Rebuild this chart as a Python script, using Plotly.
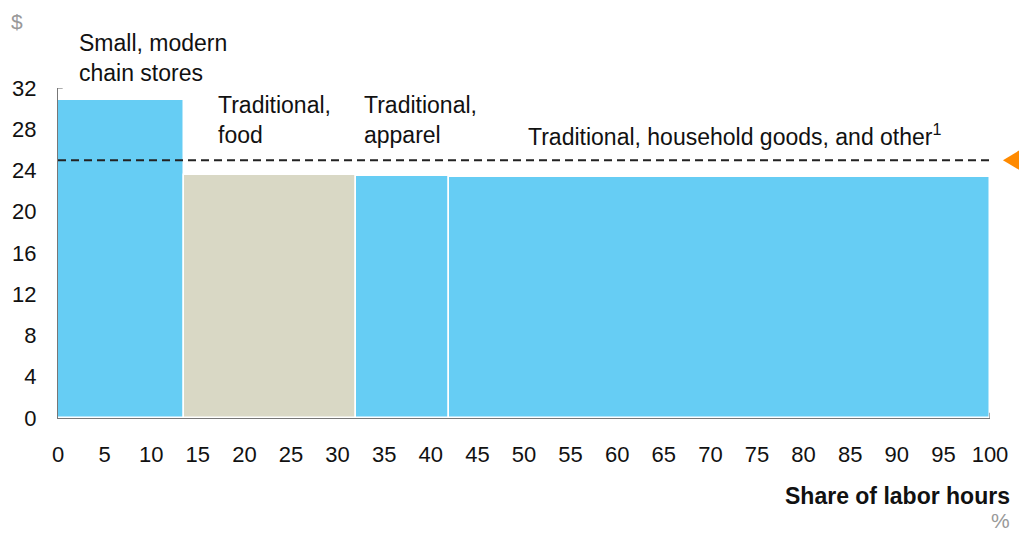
import numpy as np
import plotly.graph_objects as go

# segments (share of labor hours, %) and value per hour ($)
segments = ["Small, modern<br>chain stores", "Traditional,<br>food",
            "Traditional,<br>apparel", "Traditional, household goods, and other<sup>1</sup>"]
shares = [13.5, 18.5, 10.0, 58.0]
values = [30.8, 23.6, 23.5, 23.4]
bar_colors = ["#66CDF4", "#D9D8C5", "#66CDF4", "#66CDF4"]
benchmark = 25.0

# where each segment label starts (x, %)
label_x = [2.0, 16.9, 32.6, 50.2]

x_ticks = list(range(0, 101, 5))
y_ticks = list(range(0, 33, 4))

lefts = np.concatenate([[0], np.cumsum(shares)[:-1]])

FONT = "Liberation Sans, Arial, sans-serif"

fig = go.Figure()

fig.add_trace(go.Bar(
    x=lefts, y=values, width=shares, offset=0,
    marker=dict(color=bar_colors, line=dict(color="white", width=1.5)),
    hoverinfo="skip", showlegend=False,
))

# average line
fig.add_trace(go.Scatter(
    x=[0, 100], y=[benchmark, benchmark], mode="lines",
    line=dict(color="#222222", width=2, dash="8px,5px"),
    hoverinfo="skip", showlegend=False,
))

# orange pointer just past the right edge, at the benchmark level
tip, base, half = 1.0139, 1.06, 2.5
fig.add_shape(
    type="path", xref="paper", yref="y", layer="above",
    path=f"M {tip} {benchmark} L {base} {benchmark + half} L {base} {benchmark - half} Z",
    fillcolor="#FF8A00", line=dict(width=0),
)

# segment labels
label_shift = [12, 25, 26, 25]
for name, lx, val, ys in zip(segments, label_x, values, label_shift):
    fig.add_annotation(
        x=lx, y=val, xref="x", yref="y", text=name, showarrow=False,
        xanchor="left", yanchor="bottom", align="left", yshift=ys,
        font=dict(size=23, color="#111111", family=FONT),
    )

fig.add_annotation(
    x=-0.053, y=1.0, xref="paper", yref="paper", text="$", showarrow=False,
    xanchor="left", yanchor="bottom", yshift=53,
    font=dict(size=21, color="#999999", family=FONT),
)
fig.add_annotation(
    x=1.0236, y=0, xref="paper", yref="paper", text="<b>Share of labor hours</b>",
    showarrow=False, xanchor="right", yanchor="middle", yshift=-78,
    font=dict(size=23, color="#111111", family=FONT),
)
fig.add_annotation(
    x=1.0236, y=0, xref="paper", yref="paper", text="%",
    showarrow=False, xanchor="right", yanchor="middle", yshift=-102,
    font=dict(size=21, color="#999999", family=FONT),
)

# small corner at the top of the y axis and end tick of x axis
fig.add_shape(type="line", xref="x", yref="y", x0=0, x1=0.5, y0=32, y1=32,
              line=dict(color="#777777", width=1.2))
fig.add_shape(type="line", xref="x", yref="y", x0=100, x1=100, y0=0, y1=0.5,
              line=dict(color="#777777", width=1.2))

# page body adds an 8px offset; the figure runs a little past the right edge
fig.update_layout(
    width=1027, height=525,
    margin=dict(l=50, r=45, t=80, b=115, autoexpand=False),
    paper_bgcolor="white", plot_bgcolor="white",
    font=dict(family=FONT, size=22, color="#111111"),
    bargap=0,
    xaxis=dict(
        range=[0, 100], tickvals=x_ticks, showgrid=False, zeroline=False,
        showline=True, linecolor="#777777", linewidth=1.2, automargin=False,
        ticks="", ticklabelstandoff=16, tickfont=dict(size=22),
    ),
    yaxis=dict(
        range=[0, 32], tickvals=y_ticks, showgrid=False, zeroline=False,
        showline=True, linecolor="#777777", linewidth=1.2, automargin=False,
        ticks="", ticklabelstandoff=16, tickfont=dict(size=22),
    ),
)

fig.write_html("out.html")
